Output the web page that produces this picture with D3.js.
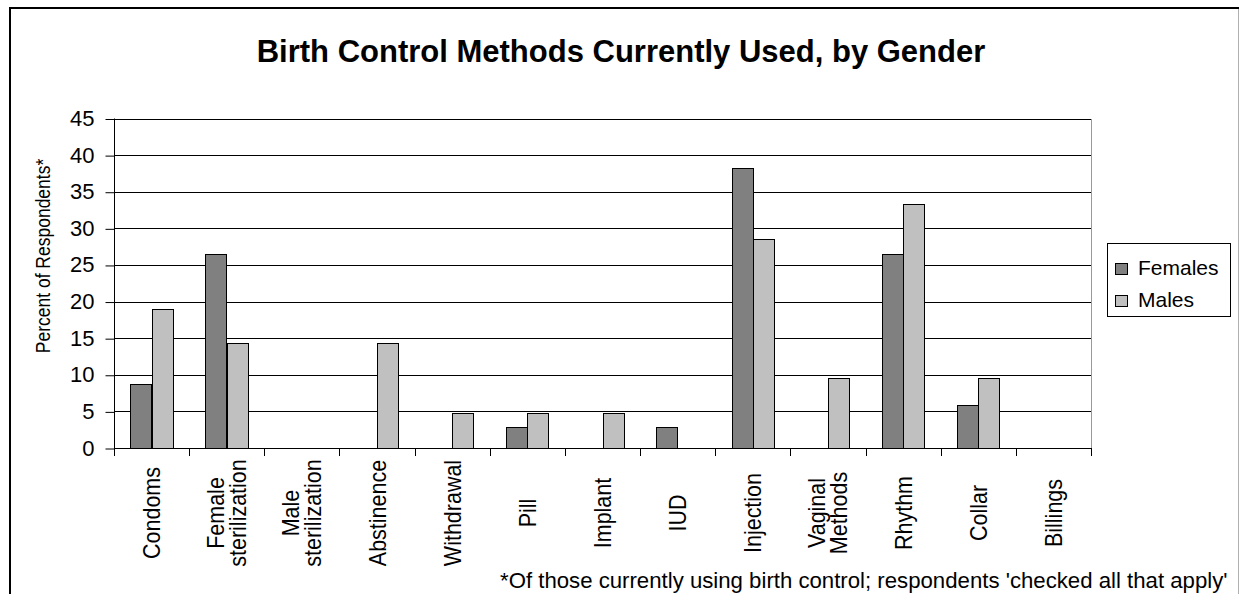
<!DOCTYPE html>
<html><head><meta charset="utf-8">
<script src="https://cdn.jsdelivr.net/npm/d3@7"></script>
<style>body{margin:0;background:#fff;} svg{display:block;font-family:"Liberation Sans",Arial,sans-serif;}</style>
</head><body>
<svg id="chart" width="1239" height="594"></svg>
<script>
const categories = ["Condoms","Female sterilization","Male sterilization","Abstinence","Withdrawal","Pill","Implant","IUD","Injection","Vaginal Methods","Rhythm","Collar","Billings"];
const categoryLines = [["Condoms"],["Female","sterilization"],["Male","sterilization"],["Abstinence"],["Withdrawal"],["Pill"],["Implant"],["IUD"],["Injection"],["Vaginal","Methods"],["Rhythm"],["Collar"],["Billings"]];
const seriesNames = ["Females","Males"];
const females = [8.8, 26.5, 0, 0, 0, 2.9, 0, 2.9, 38.2, 0, 26.5, 5.9, 0];
const males = [19.0, 14.3, 0, 14.3, 4.8, 4.8, 4.8, 0, 28.6, 9.5, 33.3, 9.5, 0];
const yTicks = [0,5,10,15,20,25,30,35,40,45];
const titleText = "Birth Control Methods Currently Used, by Gender";
const yTitle = "Percent of Respondents*";
const footnote = "*Of those currently using birth control; respondents 'checked all that apply'";

const colors = {Females:"#808080", Males:"#C0C0C0"};
const svg = d3.select("#chart");
const L = 114, R = 1091, T = 118.5, B = 448;

// outer frame
svg.append("line").attr("x1",10).attr("x2",10).attr("y1",7).attr("y2",594).attr("stroke","#000").attr("stroke-width",2);
svg.append("line").attr("x1",9).attr("x2",1239).attr("y1",8).attr("y2",8).attr("stroke","#000").attr("stroke-width",2);
svg.append("line").attr("x1",1238.5).attr("x2",1238.5).attr("y1",9).attr("y2",594).attr("stroke","#b0b0b0").attr("stroke-width",1);

const x = d3.scaleBand().domain(categories).range([L,R]).padding(0);
const x1 = d3.scaleBand().domain(seriesNames).range([0,x.bandwidth()]).paddingInner(0).paddingOuter(0.768);
const y = d3.scaleLinear().domain([0,45]).range([B,T]);

// gridlines
svg.append("g").selectAll("line").data(yTicks.filter(d=>d>0)).join("line")
  .attr("x1",L).attr("x2",R).attr("y1",d=>Math.round(y(d))+0.5).attr("y2",d=>Math.round(y(d))+0.5)
  .attr("stroke","#000").attr("stroke-width",1);
// right plot border
svg.append("line").attr("x1",R+0.5).attr("x2",R+0.5).attr("y1",Math.round(T)).attr("y2",B).attr("stroke","#999").attr("stroke-width",1);

// bars
const rows = categories.map((c,i)=>({cat:c, vals:[{s:"Females",v:females[i]},{s:"Males",v:males[i]}]}));
const g = svg.append("g");
rows.forEach(r=>{
  g.selectAll(null).data(r.vals.filter(d=>d.v>0)).join("rect")
    .attr("x",d=>Math.round(x(r.cat)+x1(d.s))+0.5)
    .attr("width",Math.round(x1.bandwidth()))
    .attr("y",d=>Math.round(y(d.v))+0.5)
    .attr("height",d=>Math.round(B)-Math.round(y(d.v)))
    .attr("fill",d=>colors[d.s]).attr("stroke","#000").attr("stroke-width",1);
});

// y axis
const yAxis = d3.axisLeft(y).tickValues(yTicks).tickSize(9).tickPadding(11);
const ya = svg.append("g").attr("transform",`translate(${L+0.5},0)`).call(yAxis);
ya.select(".domain").attr("stroke","#000").attr("d",`M0,${T}V${B}`);
ya.selectAll(".tick line").attr("stroke","#000").attr("transform","translate(0,0.5)");
ya.selectAll(".tick text").attr("font-size",22).attr("font-family","Liberation Sans, Arial, sans-serif").attr("fill","#000");

// x axis line and ticks
const xa = svg.append("g");
xa.append("line").attr("x1",L).attr("x2",R+1).attr("y1",B+0.5).attr("y2",B+0.5).attr("stroke","#000");
const bounds = categories.map(c=>x(c)).concat([R]);
xa.selectAll(".xt").data(bounds).join("line").attr("class","xt")
  .attr("x1",d=>Math.round(d)+0.5).attr("x2",d=>Math.round(d)+0.5).attr("y1",B).attr("y2",B+8).attr("stroke","#000");

// x labels (centred vertically in label area)
const labMid = 513;
categories.forEach((c,i)=>{
  const lines = categoryLines[i];
  const cx = x(c)+x.bandwidth()/2;
  const lh = 22;
  lines.forEach((t,j)=>{
    const lx = cx + (j-(lines.length-1)/2)*lh + 8.5;
    svg.append("text").attr("font-size",21.5).attr("text-anchor","middle")
      .attr("transform",`translate(${lx},${labMid}) scale(1.12,1) rotate(-90)`).text(t);
  });
});

// y title
svg.append("text").attr("font-size",17.5).attr("text-anchor","middle")
  .attr("transform","translate(50,256) scale(1.15,1) rotate(-90)").text(yTitle);

// title
svg.append("text").attr("x",621).attr("y",62).attr("text-anchor","middle").attr("font-size",31).attr("font-weight","bold").text(titleText);

// footnote
svg.append("text").attr("x",500).attr("y",588).attr("font-size",22.2).text(footnote);

// legend
const lg = svg.append("g");
lg.append("rect").attr("x",1107.5).attr("y",243.5).attr("width",123).attr("height",73).attr("fill","#fff").attr("stroke","#000");
seriesNames.forEach((s,i)=>{
  const yy = 263 + i*32;
  lg.append("rect").attr("x",1115.5).attr("y",yy+0.5).attr("width",12).attr("height",11).attr("fill",colors[s]).attr("stroke","#000");
  lg.append("text").attr("x",1138).attr("y",yy+12).attr("font-size",21).text(s);
});
</script>
</body></html>
